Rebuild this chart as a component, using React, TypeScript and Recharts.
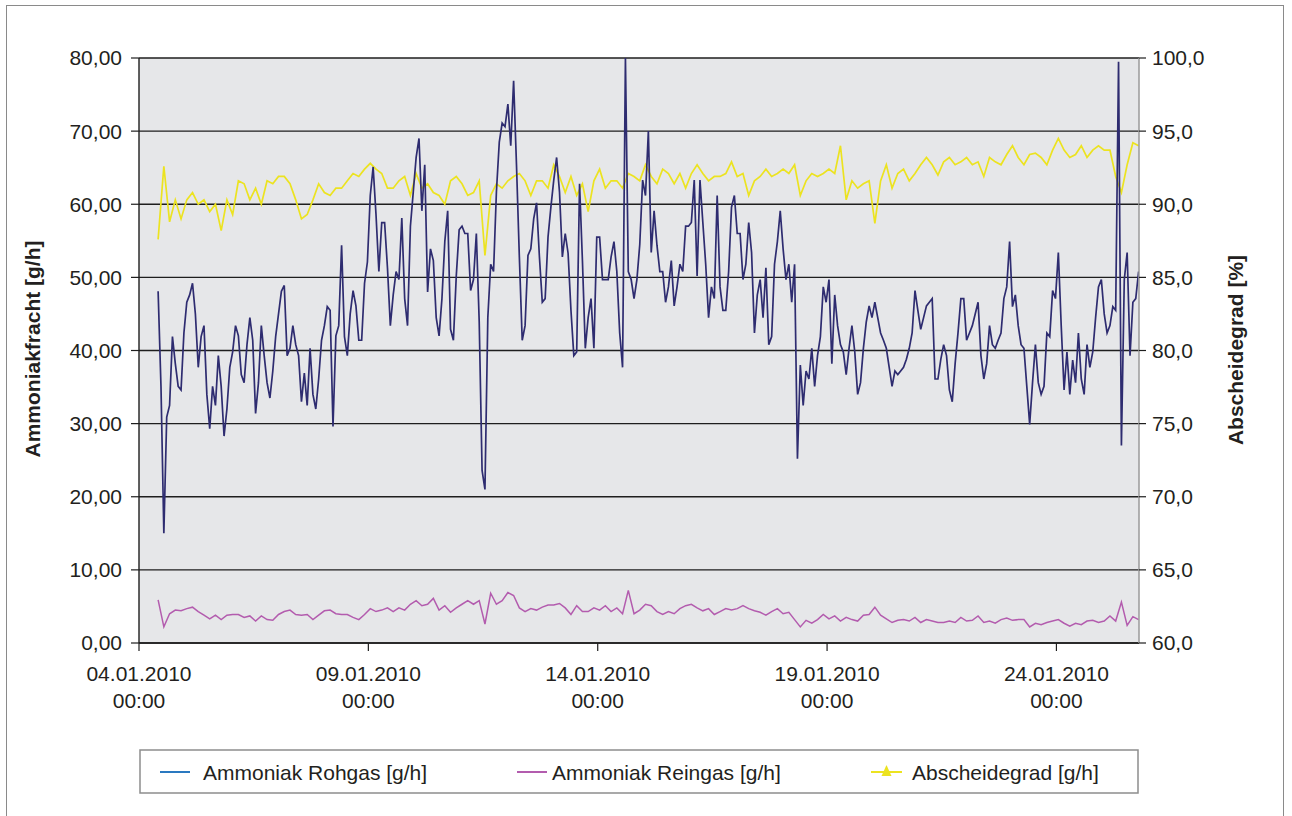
import React from "react";
import { ComposedChart, Line, XAxis, YAxis, CartesianGrid } from "recharts";

// time grid: hours after 04.01.2010 00:00
const START_HOUR = 10;
const ROHGAS_STEP_HOURS = 1.5;
const OTHER_STEP_HOURS = 3;
const X_MAX_HOURS = 523.2;

const ROHGAS = [
  48.1, 35.1, 15, 30.9, 32.5, 41.9, 38.2, 35.1, 34.6, 42.4,
  46.6, 47.6, 49.2, 45, 37.7, 41.9, 43.4, 34, 29.3, 35.1,
  32.5, 39.3, 35.1, 28.3, 32, 37.7, 39.8, 43.4, 42, 36.7,
  35.6, 40.8, 44.5, 41.4, 31.4, 35.6, 43.4, 39.3, 35.6, 33.5,
  37.2, 41.9, 45, 48.1, 48.9, 39.3, 40.3, 43.4, 40.8, 39.3,
  33, 36.9, 32.5, 40.3, 34, 32, 36.1, 41.4, 43.4, 46,
  45.5, 29.6, 42, 43.4, 54.4, 41.9, 39.3, 45, 48.2, 46.1,
  41.4, 41.4, 49.2, 52.1, 61.2, 65.1, 58.6, 50.8, 57.5, 57.5,
  51.3, 43.4, 47.6, 50.8, 49.7, 58.1, 47.1, 43.4, 57, 61.7,
  66.4, 69, 59.1, 65.4, 48, 53.9, 52.3, 44.5, 42, 47.1,
  54.9, 59.1, 42.9, 41.4, 50.2, 56.5, 57, 56, 56, 48.2,
  49.7, 56, 43.9, 23.6, 21, 44.5, 51.8, 50.8, 61.7, 68.5,
  71.1, 70.6, 73.7, 68, 76.9, 65.4, 52.8, 41.4, 43.4, 53,
  53.9, 58, 60.2, 52.8, 46.6, 47.1, 55.5, 59.6, 63.3, 66.4,
  61.7, 52.8, 56, 53.3, 45.5, 39.3, 39.8, 62.8, 52.3, 40.3,
  44.5, 47.1, 40.3, 55.5, 55.5, 49.7, 49.7, 49.7, 52.8, 54.9,
  50.8, 42.4, 37.7, 80, 50.8, 49.7, 47.1, 49.7, 54.5, 63.3,
  61.2, 70, 53.4, 59.1, 54.4, 50.8, 50.8, 46.6, 48.7, 52.3,
  46.1, 48.7, 51.8, 50.8, 57, 57, 57.5, 63.3, 50.2, 63.3,
  57.5, 51.8, 44.5, 48.7, 47.1, 61.2, 48.7, 45.5, 45.5, 50.8,
  59.6, 61.2, 56, 56, 49.7, 51.8, 57.5, 53.4, 42.4, 47.6,
  49.7, 44.5, 51.3, 40.8, 41.9, 51.8, 54.9, 59.1, 53.9, 49.7,
  51.8, 46.6, 51.8, 25.2, 38, 32.5, 37.2, 36.1, 40.3, 35.1,
  39.3, 41.9, 48.7, 46.6, 49.7, 38.2, 47.6, 43.4, 40.8, 39.8,
  36.7, 40.3, 43.4, 39.8, 34, 35.6, 40.3, 43.9, 46.1, 44.5,
  46.6, 44.5, 42.4, 41.4, 40.3, 37.7, 35.1, 37.2, 36.7, 37.2,
  37.7, 38.8, 40.3, 42.4, 48.2, 45.5, 42.9, 44.5, 46.1, 46.6,
  47.1, 36.1, 36.1, 38.8, 40.8, 39.3, 34.6, 33, 38.2, 42.4,
  47.1, 47.1, 41.4, 42.4, 43.4, 45, 46.6, 39.3, 36.1, 38.2,
  43.4, 40.8, 40.3, 41.4, 42.4, 47.1, 48.7, 54.9, 46, 47.6,
  43.4, 40.8, 40.3, 35.1, 29.9, 35.6, 40.8, 35.6, 34, 35.1,
  42.4, 41.9, 48.2, 47.1, 53.4, 43.4, 34.6, 39.8, 34, 38.7,
  35.6, 42.4, 36.1, 34, 40.8, 37.7, 39.8, 44.5, 48.7, 49.7,
  45, 42.4, 43.4, 46, 45.5, 79.5, 27, 49.7, 53.4, 39.3,
  46.6, 47.1, 50.8,
];

const REINGAS = [
  5.9, 2.2, 4.0, 4.5, 4.4, 4.7, 4.9, 4.3, 3.8, 3.3,
  3.8, 3.2, 3.8, 3.9, 3.9, 3.5, 3.7, 3.0, 3.7, 3.2,
  3.1, 3.9, 4.3, 4.5, 3.9, 3.8, 3.9, 3.2, 3.8, 4.4,
  4.5, 4.0, 3.9, 3.9, 3.5, 3.2, 3.9, 4.7, 4.3, 4.5,
  4.8, 4.3, 4.8, 4.5, 5.3, 5.8, 5.1, 5.3, 6.1, 4.5,
  5.1, 4.2, 4.8, 5.3, 5.8, 5.3, 5.8, 2.6, 6.8, 5.3,
  5.8, 6.9, 6.5, 4.8, 4.3, 4.7, 4.5, 4.9, 5.2, 5.2,
  5.4, 4.8, 3.9, 5.1, 4.3, 4.3, 4.8, 4.5, 5.1, 4.3,
  4.8, 4.0, 7.2, 4.0, 4.5, 5.3, 5.1, 4.3, 3.9, 4.3,
  4.0, 4.7, 5.1, 5.3, 4.8, 4.4, 4.7, 3.9, 4.3, 4.7,
  4.5, 4.7, 5.1, 4.7, 4.4, 4.2, 3.8, 4.3, 4.7, 4.0,
  4.2, 3.2, 2.2, 3.1, 2.7, 3.2, 3.9, 3.3, 3.7, 3.0,
  3.5, 3.2, 3.0, 3.8, 3.9, 4.9, 3.8, 3.3, 2.8, 3.1,
  3.2, 3.0, 3.5, 2.8, 3.2, 3.0, 2.8, 2.8, 3.0, 2.8,
  3.5, 3.0, 3.1, 3.7, 2.8, 3.0, 2.7, 3.2, 3.4, 3.1,
  3.2, 3.2, 2.2, 2.7, 2.5, 2.8, 3.0, 3.2, 2.7, 2.3,
  2.7, 2.5, 3.0, 3.1, 2.8, 3.0, 3.7, 3.0, 5.6, 2.4,
  3.6, 3.2,
];

const ABSCHEIDEGRAD = [
  87.6, 92.6, 88.8, 90.3, 89, 90.3, 90.8, 90, 90.3, 89.5,
  90, 88.2, 90.3, 89.3, 91.6, 91.4, 90.3, 91.1, 90, 91.6,
  91.4, 91.9, 91.9, 91.4, 90.3, 89, 89.3, 90.3, 91.4, 90.8,
  90.6, 91.1, 91.1, 91.6, 92.1, 91.9, 92.4, 92.8, 92.4, 92.1,
  91.1, 91.1, 91.6, 91.9, 90.6, 92.1, 91.1, 91.4, 90.8, 90.6,
  90, 91.6, 91.9, 91.4, 90.6, 90.8, 91.6, 86.5, 90.6, 91.4,
  91.1, 91.6, 91.9, 92.1, 91.6, 90.6, 91.6, 91.6, 91.1, 92.7,
  91.9, 90.8, 91.9, 90.6, 91.4, 89.5, 91.6, 92.4, 91.1, 91.6,
  91.6, 91.1, 92.1, 91.9, 91.6, 92.7, 91.9, 91.4, 92.4, 92.1,
  91.4, 92.1, 91.1, 92.1, 92.7, 92.1, 91.6, 91.9, 91.9, 92.1,
  92.9, 91.9, 92.1, 90.6, 91.6, 91.9, 92.4, 91.9, 92.1, 92.4,
  92.1, 92.7, 90.6, 91.6, 92.1, 91.9, 92.1, 92.4, 92.1, 94,
  90.3, 91.6, 91.1, 91.4, 91.6, 88.7, 91.6, 92.7, 91.1, 92.1,
  92.4, 91.6, 92.1, 92.7, 93.2, 92.7, 92, 92.9, 93.2, 92.7,
  92.9, 93.2, 92.7, 92.9, 91.9, 93.2, 92.9, 92.7, 93.4, 94,
  93.2, 92.7, 93.4, 93.5, 93.2, 92.7, 93.7, 94.5, 93.7, 93.2,
  93.4, 94, 93.2, 93.7, 94, 93.7, 93.7, 91.9, 90.8, 92.7,
  94.2, 94,
];

const X_TICKS = [0, 120, 240, 360, 480];
const X_TICK_DATES = ["04.01.2010", "09.01.2010", "14.01.2010", "19.01.2010", "24.01.2010"];
const X_TICK_TIMES = ["00:00", "00:00", "00:00", "00:00", "00:00"];
const LEFT_TICKS = [0, 10, 20, 30, 40, 50, 60, 70, 80];
const RIGHT_TICKS = [60, 65, 70, 75, 80, 85, 90, 95, 100];

const SERIES_NAMES = ["Ammoniak Rohgas [g/h]", "Ammoniak Reingas [g/h]", "Abscheidegrad [g/h]"];
const LEFT_TITLE = "Ammoniakfracht [g/h]";
const RIGHT_TITLE = "Abscheidegrad [%]";

const RATIO = OTHER_STEP_HOURS / ROHGAS_STEP_HOURS;
const data = ROHGAS.map((v, k) => {
  const j = k / RATIO;
  const onGrid = k % RATIO === 0;
  return {
    t: START_HOUR + k * ROHGAS_STEP_HOURS,
    rohgas: v,
    reingas: onGrid ? REINGAS[j] : null,
    grad: onGrid ? ABSCHEIDEGRAD[j] : null,
  };
});

const FONT = '"Liberation Sans", Arial, Helvetica, sans-serif';
const TEXT = "#231f20";
const NAVY = "#2e2c70";
const PINK = "#b35cae";
const YELLOW = "#ece320";

const XTick = (props: any) => {
  const { x, y, payload } = props;
  const idx = X_TICKS.indexOf(payload.value);
  return (
    <g>
      <text x={x} y={y + 30} textAnchor="middle" fill={TEXT} fontSize={21} fontFamily={FONT}>
        {X_TICK_DATES[idx]}
      </text>
      <text x={x} y={y + 57} textAnchor="middle" fill={TEXT} fontSize={21} fontFamily={FONT}>
        {X_TICK_TIMES[idx]}
      </text>
    </g>
  );
};

const fmtLeft = (v: number) => v.toFixed(2).replace(".", ",");
const fmtRight = (v: number) => v.toFixed(1).replace(".", ",");

export default function App() {
  return (
    <div
      style={{
        position: "absolute",
        left: 0,
        top: 0,
        width: 1292,
        height: 816,
        overflow: "hidden",
        background: "#fff",
      }}
    >
      <div
        style={{
          position: "absolute",
          left: 6,
          top: 5,
          width: 1278,
          height: 840,
          border: "1.5px solid #8a8a8a",
          boxSizing: "border-box",
        }}
      />
      <div style={{ position: "absolute", left: 0, top: 0 }}>
        <ComposedChart
          width={1292}
          height={720}
          data={data}
          margin={{ top: 58, right: 0, left: 0, bottom: 17 }}
        >
          <CartesianGrid
            yAxisId="left"
            vertical={false}
            horizontal={true}
            stroke="#1e1e1e"
            strokeWidth={1.4}
            fill="#e6e7e9"
            fillOpacity={1}
          />
          <XAxis
            dataKey="t"
            type="number"
            domain={[0, X_MAX_HOURS]}
            ticks={X_TICKS}
            allowDataOverflow
            height={60}
            tickSize={8}
            tickMargin={0}
            axisLine={{ stroke: "#1e1e1e", strokeWidth: 1.4 }}
            tickLine={{ stroke: "#1e1e1e", strokeWidth: 1.2 }}
            tick={<XTick />}
            interval={0}
          />
          <YAxis
            yAxisId="left"
            domain={[0, 80]}
            ticks={LEFT_TICKS}
            width={139}
            tickSize={8}
            tickMargin={9}
            tickFormatter={fmtLeft}
            axisLine={{ stroke: "#1e1e1e", strokeWidth: 1.4 }}
            tickLine={{ stroke: "#1e1e1e", strokeWidth: 1.2 }}
            tick={{ fill: TEXT, fontSize: 21, fontFamily: FONT }}
            interval={0}
          />
          <YAxis
            yAxisId="right"
            orientation="right"
            domain={[60, 100]}
            ticks={RIGHT_TICKS}
            width={153}
            tickSize={7}
            tickMargin={6}
            tickFormatter={fmtRight}
            axisLine={{ stroke: "#9a9a9a", strokeWidth: 1.5 }}
            tickLine={{ stroke: "#1e1e1e", strokeWidth: 1.2 }}
            tick={{ fill: TEXT, fontSize: 21, fontFamily: FONT }}
            interval={0}
          />
          <Line
            yAxisId="right"
            dataKey="grad"
            type="linear"
            stroke={YELLOW}
            strokeWidth={1.7}
            dot={false}
            connectNulls
            isAnimationActive={false}
          />
          <Line
            yAxisId="left"
            dataKey="reingas"
            type="linear"
            stroke={PINK}
            strokeWidth={1.5}
            dot={false}
            connectNulls
            isAnimationActive={false}
          />
          <Line
            yAxisId="left"
            dataKey="rohgas"
            type="linear"
            stroke={NAVY}
            strokeWidth={1.7}
            dot={false}
            isAnimationActive={false}
          />
        </ComposedChart>
      </div>
      <svg
        width={1292}
        height={816}
        style={{ position: "absolute", left: 0, top: 0, pointerEvents: "none" }}
      >
        <text
          transform="translate(40,349) rotate(-90)"
          textAnchor="middle"
          fill={TEXT}
          fontSize={21}
          fontWeight="bold"
          fontFamily={FONT}
        >
          {LEFT_TITLE}
        </text>
        <text
          transform="translate(1243,350) rotate(-90)"
          textAnchor="middle"
          fill={TEXT}
          fontSize={21}
          fontWeight="bold"
          fontFamily={FONT}
        >
          {RIGHT_TITLE}
        </text>
        <rect x={140} y={750} width={998} height={43} fill="#fff" stroke="#8d8d8d" strokeWidth={1.5} />
        <line x1={160} y1={772} x2={190} y2={772} stroke="#2a79c0" strokeWidth={2} />
        <text x={203} y={780} fill={TEXT} fontSize={21} fontFamily={FONT}>
          {SERIES_NAMES[0]}
        </text>
        <line x1={517} y1={772} x2={547} y2={772} stroke={PINK} strokeWidth={2} />
        <text x={552} y={780} fill={TEXT} fontSize={21} fontFamily={FONT}>
          {SERIES_NAMES[1]}
        </text>
        <line x1={871} y1={772} x2={902} y2={772} stroke={YELLOW} strokeWidth={2} />
        <polygon points="886.5,765 881.5,776 891.5,776" fill={YELLOW} />
        <text x={912} y={780} fill={TEXT} fontSize={21} fontFamily={FONT}>
          {SERIES_NAMES[2]}
        </text>
      </svg>
    </div>
  );
}
